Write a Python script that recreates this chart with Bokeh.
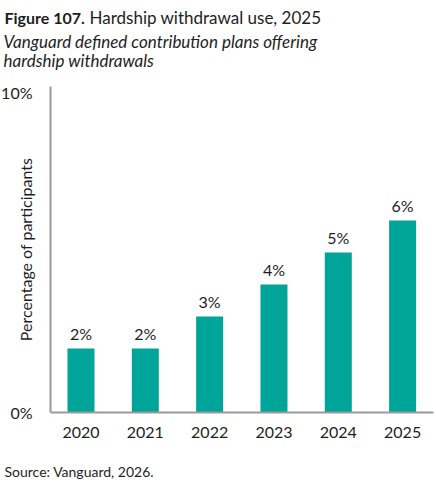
import numpy as np
from bokeh.plotting import figure
from bokeh.layouts import column, row
from bokeh.models import ColumnDataSource, Range1d, FixedTicker, LabelSet
from bokeh.core.properties import value
from bokeh.embed import file_html
from bokeh.resources import INLINE

# ---- data ----
years = ["2020", "2021", "2022", "2023", "2024", "2025"]
values = [2, 2, 3, 4, 5, 6]
value_labels = ["2%", "2%", "3%", "4%", "5%", "6%"]
y_ticks = [0, 10]
y_tick_labels = ["0%", "10%"]
title_bold = "Figure 107."
title_rest = "Hardship withdrawal use, 2025"
subtitle_lines = ["Vanguard defined contribution plans offering", "hardship withdrawals"]
source_text = "Source: Vanguard, 2026."
y_label = "Percentage of participants"

# ---- styling / layout ----
W = 436
TOP_H, MAIN_H, SRC_H = 78, 372, 40
TEAL = "#00a59a"
TXT = "#1e1e1e"
AXIS = "#9a9a9a"
FONT = "Lato"


def no_align(f):
    try:
        f.frame_align = False
    except Exception:
        pass


def text_fig(h):
    f = figure(width=W, height=h, x_range=Range1d(0, W), y_range=Range1d(h, 0),
               x_axis_type=None, y_axis_type=None, output_backend="svg",
               toolbar_location=None, min_border=0)
    f.outline_line_color = None
    f.xgrid.visible = False
    f.ygrid.visible = False
    no_align(f)
    return f


# title block (coordinates are pixels, y downward)
t = text_fig(TOP_H)
t.text(x=[4], y=[16.5], text=[title_bold], text_font=value(FONT), text_font_style="bold",
       text_font_size="16px", text_color=TXT, text_baseline="alphabetic")
t.text(x=[89], y=[16.5], text=[title_rest], text_font=value(FONT),
       text_font_size="17px", text_color=TXT, text_baseline="alphabetic")
t.text(x=[3, 3], y=[41, 60], text=subtitle_lines, text_font=value(FONT),
       text_font_style="italic", text_font_size="17px", text_color=TXT,
       text_baseline="alphabetic")

# main chart
FL, FR, FT, FB = 50, 433, 8, 334   # frame edges inside the main figure
x0, x1 = -0.474, 5.48
pos = list(range(len(years)))
src = ColumnDataSource(dict(x=pos, v=values, lab=value_labels))

p = figure(width=W, height=MAIN_H, x_range=Range1d(x0, x1), y_range=Range1d(0, 10.1875),
           output_backend="svg", toolbar_location=None,
           min_border_left=FL, min_border_right=W - FR,
           min_border_top=FT, min_border_bottom=MAIN_H - FB)
p.outline_line_color = None
p.xgrid.visible = False
p.ygrid.visible = False
no_align(p)

p.vbar(x="x", top="v", width=0.42, source=src, fill_color=TEAL, line_color=None)
p.add_layout(LabelSet(x="x", y="v", text="lab", source=src, text_align="center",
                      text_baseline="alphabetic", y_offset=9,
                      text_font=value(FONT), text_font_size=value("16px"),
                      text_color=TXT))

for ax in (p.xaxis[0], p.yaxis[0]):
    ax.axis_line_color = AXIS
    ax.axis_line_width = 2
    ax.major_tick_line_color = None
    ax.minor_tick_line_color = None
    ax.major_label_text_font = FONT
    ax.major_label_text_color = TXT

p.xaxis.ticker = FixedTicker(ticks=pos)
p.xaxis.major_label_overrides = {i: y for i, y in zip(pos, years)}
p.xaxis.major_label_text_font_size = "16px"
p.xaxis.major_label_standoff = 8

p.yaxis.ticker = FixedTicker(ticks=y_ticks)
p.yaxis.major_label_overrides = {tk: l for tk, l in zip(y_ticks, y_tick_labels)}
p.yaxis.major_label_text_font_size = "16px"
p.yaxis.major_label_standoff = 12
p.yaxis.axis_label = y_label
p.yaxis.axis_label_text_font = FONT
p.yaxis.axis_label_text_font_size = "16px"
p.yaxis.axis_label_text_font_style = "normal"
p.yaxis.axis_label_text_color = TXT
p.yaxis.axis_label_standoff = -37

# source line
s = text_fig(SRC_H)
s.text(x=[4], y=[21], text=[source_text], text_font=value(FONT),
       text_font_size="14px", text_color=TXT, text_baseline="alphabetic")

layout = column(t, row(p), s, spacing=0)
open("out.html", "w").write(file_html(layout, INLINE))
